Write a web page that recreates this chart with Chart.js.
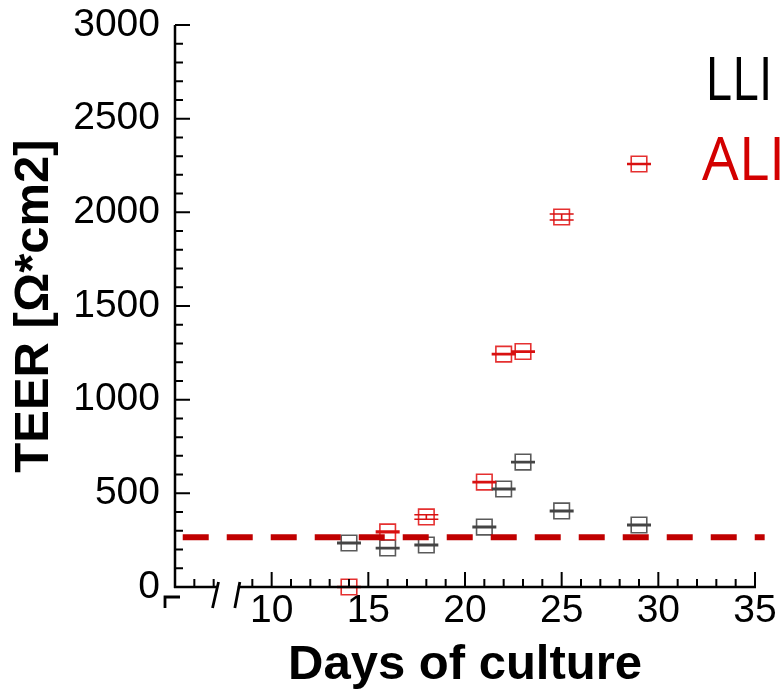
<!DOCTYPE html>
<html><head><meta charset="utf-8">
<style>html,body{margin:0;padding:0;background:#fff}#wrap{width:780px;height:693px}</style>
<script src="https://cdn.jsdelivr.net/npm/chart.js@4"></script>
</head><body><div id="wrap"><canvas id="c" width="780" height="693"></canvas></div>
<script>
const days = [14, 16, 18, 21, 22, 23, 25, 29];
const lliValues = [235, 208, 224, 320, 523, 667, 406, 331];
const lliErrors = [4, 3, 4, 4, 4, 3, 4, 4];
const aliValues = [0, 294, 374, 560, 1243, 1257, 1975, 2258];
const aliErrors = [3, 4, 12, 3, 3, 3, 16, 3];
const thresholdValue = 265;
const thresholdRange = [5.4, 35.5];
const xTicks = [10, 15, 20, 25, 30, 35];
const yTicks = [0, 500, 1000, 1500, 2000, 2500, 3000];
const axisBreak = [7.2, 8.25];
const seriesNames = ['LLI', 'ALI'];
const xTitle = 'Days of culture';
const yTitle = 'TEER [Ω*cm2]';

const FONT = "'Liberation Sans', Arial, sans-serif";
const LLI_BOX = '#5a5a5a', LLI_LINE = '#444444';
const ALI_BOX = '#e53030', ALI_LINE = '#d81010';

const pts = (vals) => days.map((d, i) => ({x: d, y: vals[i]}));

const axesPlugin = {
  id: 'axesPlugin',
  afterDatasetsDraw(chart) {
    const {ctx, scales: {x, y}} = chart;
    ctx.save();
    const drawErr = (vals, errs, color) => {
      ctx.strokeStyle = color; ctx.lineWidth = 1.6;
      vals.forEach((v, i) => {
        const px = x.getPixelForValue(days[i]);
        const hi = y.getPixelForValue(v + errs[i]);
        const lo = y.getPixelForValue(v - errs[i]);
        ctx.beginPath();
        ctx.moveTo(px, hi); ctx.lineTo(px, lo);
        ctx.moveTo(px - 12, hi); ctx.lineTo(px + 12, hi);
        ctx.moveTo(px - 12, lo); ctx.lineTo(px + 12, lo);
        ctx.stroke();
      });
    };
    drawErr(lliValues, lliErrors, LLI_LINE);
    drawErr(aliValues, aliErrors, ALI_LINE);
    ctx.restore();
  },
  afterDraw(chart) {
    const {ctx, chartArea: a, scales: {x, y}} = chart;
    ctx.save();
    ctx.strokeStyle = '#000'; ctx.lineWidth = 2.5; ctx.lineCap = 'butt';
    const b0 = x.getPixelForValue(axisBreak[0]);
    const b1 = x.getPixelForValue(axisBreak[1]);
    ctx.beginPath();
    ctx.moveTo(a.left, a.top); ctx.lineTo(a.left, a.bottom + 1);
    ctx.moveTo(a.left - 1, a.bottom); ctx.lineTo(b0, a.bottom);
    ctx.moveTo(b1, a.bottom); ctx.lineTo(a.right + 1, a.bottom);
    ctx.stroke();
    ctx.lineWidth = 2;
    ctx.beginPath();
    for (let v = 0; v <= 3000; v += 100) {
      const py = y.getPixelForValue(v);
      const len = yTicks.includes(v) ? 15 : 8;
      ctx.moveTo(a.left, py); ctx.lineTo(a.left + len, py);
    }
    for (let v = 6; v <= 35; v += 1) {
      if (v > axisBreak[0] - 0.15 && v < axisBreak[1]) continue;
      const px = x.getPixelForValue(v);
      const len = xTicks.includes(v) ? 15 : 8;
      ctx.moveTo(px, a.bottom); ctx.lineTo(px, a.bottom - len);
    }
    ctx.stroke();
    ctx.lineWidth = 2.8;
    ctx.beginPath();
    ctx.moveTo(b0 + 1, a.bottom - 5); ctx.lineTo(b0 - 5, a.bottom + 21);
    ctx.moveTo(b1 + 2, a.bottom - 5); ctx.lineTo(b1 - 3, a.bottom + 21);
    ctx.moveTo(a.left - 10, a.bottom + 21); ctx.lineTo(a.left - 10, a.bottom + 10);
    ctx.lineTo(a.left + 5, a.bottom + 10);
    ctx.stroke();
    // legend
    ctx.textBaseline = 'alphabetic'; ctx.textAlign = 'left';
    ctx.font = "61px 'Open Sans', sans-serif";
    ctx.save();
    ctx.translate(705, 100); ctx.scale(0.84, 1);
    ctx.fillStyle = '#000';
    ctx.fillText(seriesNames[0], 0, 0);
    ctx.restore();
    ctx.save();
    ctx.translate(702, 180); ctx.scale(0.95, 1);
    ctx.fillStyle = '#d30000';
    ctx.fillText(seriesNames[1], 0, 0);
    ctx.restore();
    ctx.restore();
  }
};

const noPad = s => { s.paddingTop = 0; s.paddingBottom = 0; s.paddingLeft = 0; s.paddingRight = 0; };

new Chart(document.getElementById('c'), {
  type: 'scatter',
  data: {
    datasets: [
      {
        label: 'threshold', type: 'line',
        data: thresholdRange.map(d => ({x: d, y: thresholdValue})),
        borderColor: '#c00000', borderWidth: 6, borderDash: [26, 18],
        pointRadius: 0, showLine: true, clip: false, order: 0
      },
      {
        label: seriesNames[1], data: pts(aliValues),
        pointStyle: 'rect', pointRadius: 11, pointHoverRadius: 11,
        borderColor: ALI_BOX, backgroundColor: 'rgba(0,0,0,0)', pointBorderWidth: 1.6,
        clip: false, order: 1
      },
      {
        label: seriesNames[0], data: pts(lliValues),
        pointStyle: 'rect', pointRadius: 11, pointHoverRadius: 11,
        borderColor: LLI_BOX, backgroundColor: 'rgba(0,0,0,0)', pointBorderWidth: 1.6,
        clip: false, order: 2
      }
    ]
  },
  options: {
    responsive: false, animation: false, devicePixelRatio: 1,
    layout: {padding: {top: 25, right: 25, left: 0, bottom: 0}},
    plugins: {legend: {display: false}, tooltip: {enabled: false}},
    scales: {
      x: {
        type: 'linear', min: 5, max: 35,
        grid: {display: false, drawTicks: false}, border: {display: false},
        afterBuildTicks: s => { s.ticks = xTicks.map(v => ({value: v})); },
        afterFit: s => { s.height = 106; noPad(s); },
        ticks: {font: {family: FONT, size: 39}, color: '#000', padding: 1, autoSkip: false, maxRotation: 0, callback: v => String(v)},
        title: {display: true, text: xTitle, color: '#000', font: {family: FONT, size: 49, weight: 'bold', lineHeight: 1}, padding: {top: 0, bottom: 3}}
      },
      y: {
        min: 0, max: 3000,
        grid: {display: false, drawTicks: false}, border: {display: false},
        afterBuildTicks: s => { s.ticks = yTicks.map(v => ({value: v})); },
        afterFit: s => { s.width = 175; noPad(s); },
        ticks: {font: {family: FONT, size: 39}, color: '#000', padding: 15, callback: v => String(v)},
        title: {display: true, text: yTitle, color: '#000', font: {family: FONT, size: 49, weight: 'bold', lineHeight: 1}, padding: {top: 10, bottom: 0}}
      }
    }
  },
  plugins: [axesPlugin]
});
</script></body></html>
